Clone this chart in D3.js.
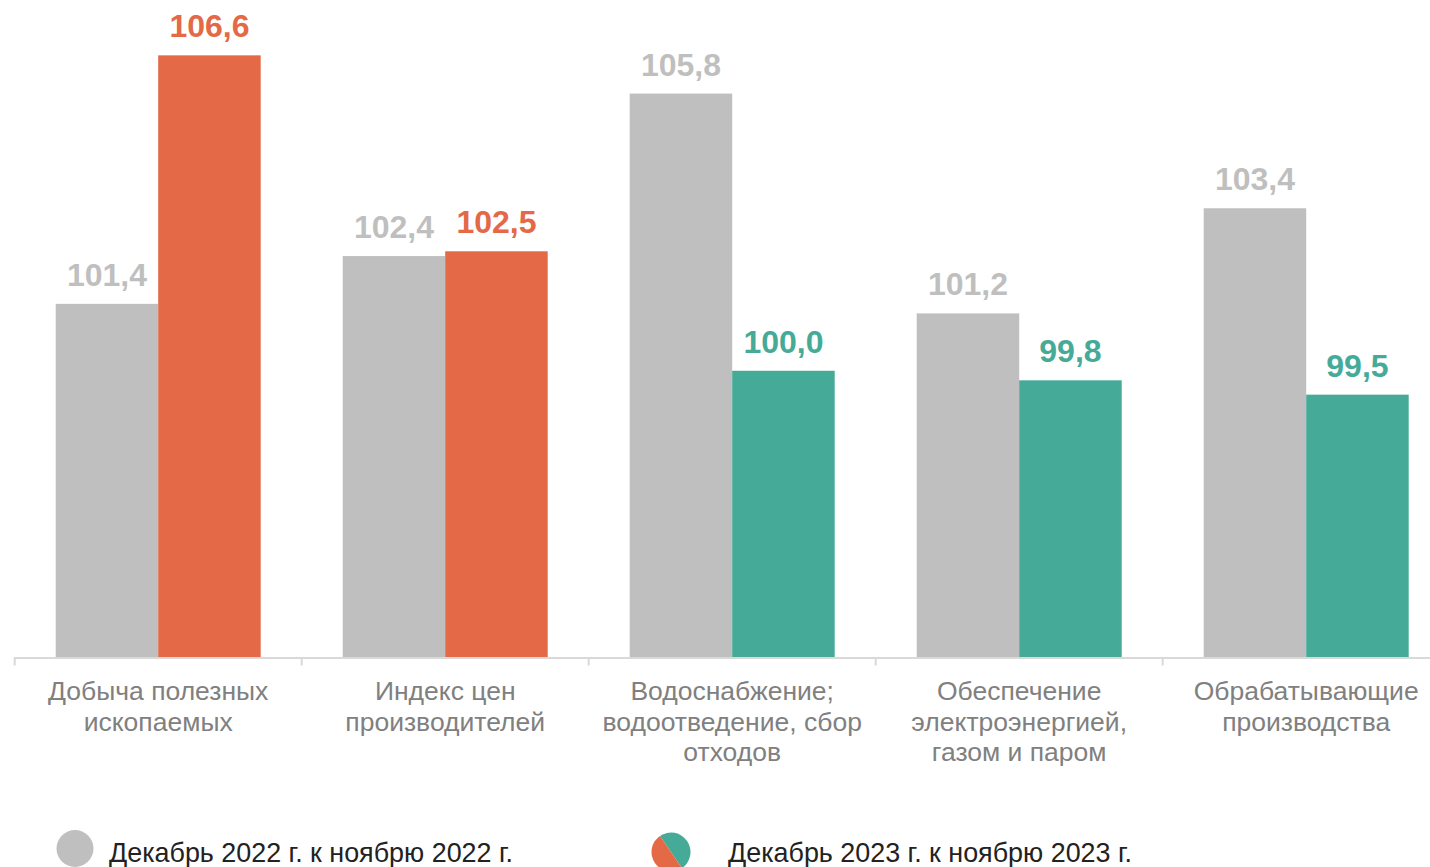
<!DOCTYPE html>
<html><head><meta charset="utf-8">
<script src="https://cdn.jsdelivr.net/npm/d3@7"></script>
<style>html,body{margin:0;padding:0;background:#fff;overflow:hidden}svg{display:block}</style>
</head><body>
<svg id="c" width="1430" height="867"></svg>
<script>
const categories = [
  ["Добыча полезных","ископаемых"],
  ["Индекс цен","производителей"],
  ["Водоснабжение;","водоотведение, сбор","отходов"],
  ["Обеспечение","электроэнергией,","газом и паром"],
  ["Обрабатывающие","производства"]
];
const seriesNames = ["Декабрь 2022 г. к ноябрю 2022 г.", "Декабрь 2023 г. к ноябрю 2023 г."];
const values2022 = [101.4, 102.4, 105.8, 101.2, 103.4];
const values2023 = [106.6, 102.5, 100.0, 99.8, 99.5];

const GRAY = "#bfbfbf", ORANGE = "#e36947", TEAL = "#46aa98";
const color2023 = v => v > 100 ? ORANGE : TEAL;
const fmt = v => v.toFixed(1).replace(".", ",");

const svg = d3.select("#c");
const font = "'Liberation Sans', Arial, sans-serif";

const ids = categories.map((c, i) => i);
const x = d3.scaleBand().domain(ids).range([14.7, 1449.7]).padding(0);
const xs = d3.scaleBand().domain([0, 1]).range([41, 246]).padding(0);
const y = d3.scaleLinear().domain([94, 107]).range([657.5, 657.5 - 13 * 47.79]);

const data = [];
ids.forEach(i => {
  data.push({i, s: 0, v: values2022[i], c: GRAY});
  data.push({i, s: 1, v: values2023[i], c: color2023(values2023[i])});
});

svg.selectAll("rect.bar").data(data).join("rect")
  .attr("class", "bar")
  .attr("x", d => x(d.i) + xs(d.s))
  .attr("width", xs.bandwidth())
  .attr("y", d => y(d.v))
  .attr("height", d => y(94) - y(d.v))
  .attr("fill", d => d.c);

svg.selectAll("text.val").data(data).join("text")
  .attr("class", "val")
  .attr("x", d => x(d.i) + xs(d.s) + xs.bandwidth() / 2)
  .attr("y", d => y(d.v) - 18)
  .attr("text-anchor", "middle")
  .attr("font-family", font)
  .attr("font-weight", "bold")
  .attr("font-size", 32)
  .attr("fill", d => d.c)
  .text(d => fmt(d.v));

// axis
const axisG = svg.append("g").attr("transform", `translate(0,${y(94)})`);
axisG.append("line").attr("x1", 14).attr("x2", 1450).attr("y1", 0.5).attr("y2", 0.5)
  .attr("stroke", "#d9d9d9").attr("stroke-width", 2);
axisG.selectAll("line.tick").data(ids).join("line")
  .attr("class", "tick")
  .attr("x1", d => x(d)).attr("x2", d => x(d))
  .attr("y1", 0).attr("y2", 8)
  .attr("stroke", "#d9d9d9").attr("stroke-width", 2);

// category labels
const catG = svg.selectAll("text.cat").data(ids).join("text")
  .attr("class", "cat")
  .attr("text-anchor", "middle")
  .attr("font-family", font)
  .attr("font-size", 26.5)
  .attr("fill", "#808080");
catG.each(function(i) {
  const t = d3.select(this);
  categories[i].forEach((line, k) => {
    t.append("tspan").attr("x", x(i) + x.bandwidth() / 2).attr("y", 700 + k * 30.5).text(line);
  });
});

// legend
svg.append("circle").attr("cx", 75).attr("cy", 848.5).attr("r", 18.5).attr("fill", GRAY);
svg.append("text").attr("x", 109).attr("y", 862).attr("font-family", font)
  .attr("font-size", 26.9).attr("fill", "#222222").text(seriesNames[0]);

const arc = d3.arc().innerRadius(0).outerRadius(19.5);
const lg = svg.append("g").attr("transform", "translate(671,852)");
const rot = -0.6;
lg.append("path").attr("d", arc({startAngle: rot, endAngle: rot + Math.PI})).attr("fill", TEAL);
lg.append("path").attr("d", arc({startAngle: rot + Math.PI, endAngle: rot + 2 * Math.PI})).attr("fill", ORANGE);
svg.append("text").attr("x", 728).attr("y", 862).attr("font-family", font)
  .attr("font-size", 26.9).attr("fill", "#222222").text(seriesNames[1]);
</script>
</body></html>
